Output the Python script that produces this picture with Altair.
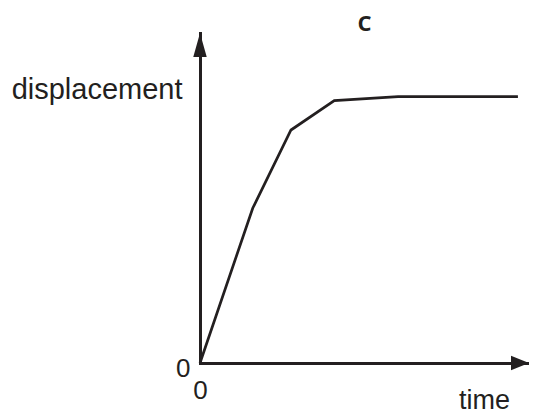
import altair as alt
import pandas as pd

# data
time = [0, 1.57, 2.71, 4.0, 5.9, 9.47]
displacement = [0, 4.69, 7.06, 7.95, 8.07, 8.07]
x_max = 9.8
y_max = 10
tick_values = [0]

INK = "#231f20"
FONT = "Liberation Sans"

curve = pd.DataFrame({"time": time, "displacement": displacement})
up_arrow = pd.DataFrame({"time": [0], "displacement": [y_max]})
right_arrow = pd.DataFrame({"time": [x_max], "displacement": [0]})

x_enc = alt.X(
    "time:Q",
    scale=alt.Scale(domain=[0, x_max], nice=False, zero=True),
    axis=alt.Axis(
        values=tick_values, ticks=False, grid=False, labelFlush=False,
        domainColor=INK, domainWidth=3, domainCap="square",
        labelFont=FONT, labelFontSize=26, labelColor=INK, labelPadding=14,
        title="time", titleFont=FONT, titleFontSize=27, titleFontWeight="normal",
        titleColor=INK, titleX=284, titleY=45, titleAlign="center",
        titleBaseline="alphabetic",
    ),
)
y_enc = alt.Y(
    "displacement:Q",
    scale=alt.Scale(domain=[0, y_max], nice=False, zero=True),
    axis=alt.Axis(
        values=tick_values, ticks=False, grid=False, labelFlush=False,
        domainColor=INK, domainWidth=3, domainCap="square",
        labelFont=FONT, labelFontSize=26, labelColor=INK, labelPadding=10,
        labelOffset=5,
        title="displacement", titleFont=FONT, titleFontSize=29,
        titleFontWeight="normal", titleColor=INK, titleAngle=0,
        titleX=-18, titleY=65, titleAlign="right", titleBaseline="alphabetic",
    ),
)

line = alt.Chart(curve).mark_line(color=INK, strokeWidth=2.7, strokeJoin="miter").encode(
    x=x_enc, y=y_enc
)
arrow_up = alt.Chart(up_arrow).mark_point(
    shape="M0,0L0.56,2L-0.56,2Z", size=576, filled=True, color=INK, opacity=1, strokeWidth=0
).encode(x=x_enc, y=y_enc)
arrow_right = alt.Chart(right_arrow).mark_point(
    shape="M0,0L-2,-0.8L-2,0.8Z", size=324, filled=True, color=INK, opacity=1, strokeWidth=0
).encode(x=x_enc, y=y_enc)

chart = (
    alt.layer(line, arrow_up, arrow_right)
    .properties(
        width=329,
        height=330,
        autosize=alt.AutoSizeParams(type="none"),
        padding={"left": 192, "top": 25, "right": 0, "bottom": 51},
        title=alt.TitleParams(
            "C", anchor="middle", frame="group", font="Open Sans", fontSize=22,
            fontWeight="bold", color=INK, baseline="alphabetic", offset=4, dy=24,
        ),
    )
    .configure(background="white", view=alt.ViewConfig(stroke="transparent", strokeWidth=0))
)

chart.save("out.html", embed_options={"renderer": "svg", "actions": False})
